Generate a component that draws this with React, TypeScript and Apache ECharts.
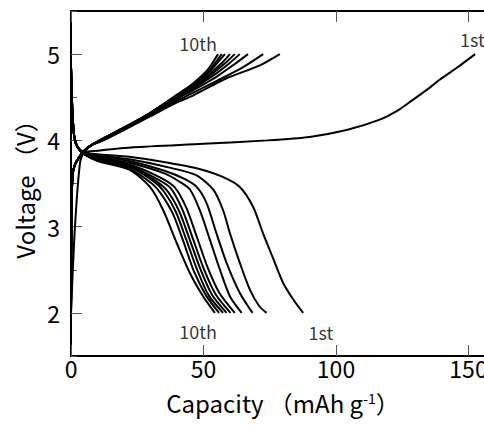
import React, { useEffect, useRef } from "react";
import * as echarts from "echarts";

// ---------- data (capacity mAh/g, voltage V) ----------
const charge1: number[][] = [[0, 2.0], [1.5, 3.0], [3.4, 3.74], [5, 3.86], [10, 3.88], [23.5, 3.92], [50, 3.96], [74, 4.0], [90, 4.04], [104, 4.12], [116.5, 4.24], [124, 4.36], [129, 4.47], [134, 4.58], [139, 4.7], [146, 4.85], [152.5, 5.0]];
const charge2: number[][] = [[0, 2.0], [0.2, 3.2], [0.6, 3.6], [1.5, 3.72], [3, 3.8], [5, 3.88], [8, 3.95], [12, 4.0], [20, 4.12], [30, 4.28], [40, 4.44], [46, 4.52], [58.7, 4.72], [71.3, 4.87], [78.8, 5.0]];
const charge3: number[][] = [[0, 2.0], [0.2, 3.2], [0.6, 3.6], [1.5, 3.72], [3, 3.8], [5, 3.88], [8, 3.95], [12, 4.0], [20, 4.13], [30, 4.29], [40, 4.46], [46, 4.55], [55, 4.69], [65, 4.85], [72.5, 5.0]];
const charge4: number[][] = [[0, 2.0], [0.2, 3.2], [0.6, 3.6], [1.5, 3.72], [3, 3.8], [5, 3.88], [8, 3.95], [12, 4.0], [20, 4.13], [30, 4.3], [40, 4.48], [46, 4.58], [55, 4.74], [62, 4.89], [66.8, 5.0]];
const charge5: number[][] = [[0, 2.0], [0.2, 3.2], [0.6, 3.6], [1.5, 3.72], [3, 3.8], [5, 3.88], [8, 3.95], [12, 4.01], [20, 4.13], [30, 4.31], [40, 4.49], [46, 4.6], [55, 4.78], [60, 4.9], [63.7, 5.0]];
const charge6: number[][] = [[0, 2.0], [0.2, 3.2], [0.6, 3.6], [1.5, 3.72], [3, 3.8], [5, 3.88], [8, 3.95], [12, 4.01], [20, 4.14], [30, 4.31], [40, 4.5], [46, 4.61], [54, 4.79], [58, 4.89], [61.8, 5.0]];
const charge7: number[][] = [[0, 2.0], [0.2, 3.2], [0.6, 3.6], [1.5, 3.72], [3, 3.8], [5, 3.88], [8, 3.95], [12, 4.01], [20, 4.14], [30, 4.32], [40, 4.51], [46, 4.62], [53, 4.79], [57, 4.9], [60, 5.0]];
const charge8: number[][] = [[0, 2.0], [0.2, 3.2], [0.6, 3.6], [1.5, 3.72], [3, 3.8], [5, 3.88], [8, 3.95], [12, 4.02], [20, 4.14], [30, 4.32], [40, 4.52], [46, 4.63], [52, 4.79], [55, 4.89], [58.1, 5.0]];
const charge9: number[][] = [[0, 2.0], [0.2, 3.2], [0.6, 3.6], [1.5, 3.72], [3, 3.8], [5, 3.88], [8, 3.95], [12, 4.02], [20, 4.15], [30, 4.32], [40, 4.52], [46, 4.64], [52, 4.81], [54, 4.88], [56.9, 5.0]];
const charge10: number[][] = [[0, 2.0], [0.2, 3.2], [0.6, 3.6], [1.5, 3.72], [3, 3.8], [5, 3.88], [8, 3.95], [12, 4.02], [20, 4.15], [30, 4.32], [40, 4.53], [46, 4.66], [51, 4.8], [53, 4.88], [55.5, 5.0]];

const discharge1: number[][] = [[0, 4.85], [0.5, 4.35], [1.2, 4.05], [2.5, 3.92], [5, 3.86], [10, 3.84], [22, 3.81], [35, 3.75], [47, 3.68], [57, 3.58], [63.7, 3.46], [68.7, 3.23], [72.5, 2.92], [76.3, 2.63], [80, 2.35], [84, 2.15], [87.6, 2.0]];
const discharge2: number[][] = [[0, 4.85], [0.5, 4.35], [1.2, 4.05], [2.5, 3.92], [5, 3.86], [10, 3.83], [22, 3.78], [35, 3.7], [47, 3.6], [53.7, 3.43], [57.4, 3.19], [60, 2.92], [63.7, 2.58], [67.5, 2.27], [71, 2.08], [73.8, 2.0]];
const discharge3: number[][] = [[0, 4.85], [0.5, 4.35], [1.2, 4.05], [2.5, 3.92], [5, 3.86], [10, 3.82], [22, 3.76], [35, 3.65], [43, 3.55], [47.4, 3.46], [51.2, 3.27], [54.9, 2.92], [58.7, 2.58], [63.7, 2.23], [68.5, 2.0]];
const discharge4: number[][] = [[0, 4.85], [0.5, 4.35], [1.2, 4.05], [2.5, 3.92], [5, 3.85], [10, 3.81], [22, 3.74], [35, 3.62], [41, 3.52], [44.9, 3.43], [48.6, 3.19], [52.4, 2.85], [56.2, 2.5], [60, 2.19], [64.4, 2.0]];
const discharge5: number[][] = [[0, 4.85], [0.5, 4.35], [1.2, 4.05], [2.5, 3.92], [5, 3.85], [10, 3.8], [22, 3.72], [33, 3.58], [39, 3.46], [43.5, 3.22], [47.5, 2.88], [51.5, 2.53], [56, 2.23], [61.8, 2.0]];
const discharge6: number[][] = [[0, 4.85], [0.5, 4.35], [1.2, 4.05], [2.5, 3.92], [5, 3.85], [10, 3.79], [22, 3.71], [32, 3.56], [37.5, 3.45], [42, 3.2], [46, 2.86], [50, 2.52], [54.5, 2.22], [60.2, 2.0]];
const discharge7: number[][] = [[0, 4.85], [0.5, 4.35], [1.2, 4.05], [2.5, 3.92], [5, 3.84], [10, 3.78], [22, 3.7], [31.5, 3.54], [36.2, 3.42], [40.8, 3.18], [44.8, 2.85], [48.8, 2.51], [53.2, 2.21], [58.7, 2.0]];
const discharge8: number[][] = [[0, 4.85], [0.5, 4.35], [1.2, 4.05], [2.5, 3.92], [5, 3.84], [10, 3.78], [22, 3.69], [31, 3.53], [35, 3.41], [39.6, 3.17], [43.6, 2.84], [47.6, 2.5], [52, 2.2], [57.4, 2.0]];
const discharge9: number[][] = [[0, 4.85], [0.5, 4.35], [1.2, 4.05], [2.5, 3.92], [5, 3.84], [10, 3.77], [22, 3.67], [30.5, 3.5], [34, 3.38], [38.6, 3.14], [42.5, 2.82], [46.4, 2.48], [51, 2.2], [55.9, 2.0]];
const discharge10: number[][] = [[0, 4.85], [0.5, 4.35], [1.2, 4.05], [2.5, 3.92], [5, 3.84], [10, 3.76], [22, 3.66], [29.8, 3.46], [34.8, 3.19], [39.9, 2.81], [44.9, 2.46], [49.9, 2.19], [54.3, 2.0]];

const curveLabels: (number | string)[][] = [
  [48, 5.13, "10th"],
  [151.5, 5.17, "1st"],
  [48, 1.79, "10th"],
  [94.3, 1.78, "1st"],
];

const xTicks = [0, 50, 100, 150];

const FONT = "'Noto Sans CJK JP', 'Noto Sans', sans-serif";

export default function App() {
  const ref = useRef<HTMLDivElement>(null);
  useEffect(() => {
    if (!ref.current) return;
    const chart = echarts.init(ref.current, undefined, { renderer: "svg" });
    const curves = [
      charge1, charge2, charge3, charge4, charge5, charge6, charge7, charge8, charge9, charge10,
      discharge1, discharge2, discharge3, discharge4, discharge5, discharge6, discharge7, discharge8, discharge9, discharge10,
    ];
    const lineSeries = curves.map((d, i) => ({
      type: "line",
      name: "c" + i,
      data: d,
      showSymbol: false,
      smooth: 0.25,
      lineStyle: { color: "#000", width: 2 },
      xAxisIndex: 0,
      yAxisIndex: 0,
      silent: true,
    }));
    const tickStyle = { show: true, inside: true, length: 11, lineStyle: { color: "#555", width: 1 } };
    const option: any = {
      animation: false,
      backgroundColor: "#fff",
      grid: { left: 71, top: 11, width: 424, height: 345, containLabel: false },
      xAxis: [
        {
          type: "value",
          min: 0,
          max: 160,
          interval: 50,
          position: "bottom",
          axisLine: { show: true, lineStyle: { color: "#000", width: 2 } },
          axisTick: tickStyle,
          splitLine: { show: false },
          axisLabel: {
            show: true,
            margin: 0,
            fontSize: 23,
            fontFamily: FONT,
            color: "#000",
            showMaxLabel: false,
            formatter: (v: number) => (xTicks.indexOf(v) >= 0 ? String(v) : ""),
          },
          name: "{a|Capacity （mAh g}{s|-1}{a|）}",
          nameLocation: "middle",
          nameGap: 31,
          nameTextStyle: {
            rich: {
              a: { fontSize: 24, fontFamily: FONT, color: "#000", lineHeight: 30 },
              s: { fontSize: 14, fontFamily: FONT, color: "#000", verticalAlign: "top", padding: [4, 0, 0, 0] },
            },
          },
        },
        {
          type: "value",
          min: 0,
          max: 160,
          interval: 50,
          position: "top",
          axisLine: { show: true, lineStyle: { color: "#000", width: 2 } },
          axisTick: tickStyle,
          axisLabel: { show: false },
          splitLine: { show: false },
        },
      ],
      yAxis: [
        {
          type: "value",
          min: 1.5,
          max: 5.5,
          splitNumber: 4,
          position: "left",
          axisLine: { show: true, lineStyle: { color: "#000", width: 2 } },
          axisTick: tickStyle,
          splitLine: { show: false },
          axisLabel: {
            show: true,
            margin: 11,
            fontSize: 23,
            fontFamily: FONT,
            color: "#000",
            showMinLabel: false,
            showMaxLabel: false,
            formatter: (v: number) => (Math.abs(v - Math.round(v)) < 1e-6 ? String(Math.round(v)) : ""),
          },
          name: "Voltage （V）",
          nameLocation: "middle",
          nameGap: 28,
          nameTextStyle: { fontSize: 24, fontFamily: FONT, color: "#000" },
        },
        {
          type: "value",
          min: 1.5,
          max: 5.5,
          interval: 0.5,
          position: "left",
          axisLine: { show: false },
          axisTick: { show: true, inside: true, length: 6, lineStyle: { color: "#555", width: 1 } },
          axisLabel: { show: false },
          splitLine: { show: false },
        },
        {
          type: "value",
          min: 1.5,
          max: 5.5,
          splitNumber: 4,
          position: "right",
          axisLine: { show: true, lineStyle: { color: "#000", width: 2 } },
          axisTick: tickStyle,
          axisLabel: { show: false },
          splitLine: { show: false },
        },
      ],
      series: [
        ...lineSeries,
        {
          type: "scatter",
          xAxisIndex: 0,
          yAxisIndex: 0,
          symbolSize: 0,
          silent: true,
          clip: false,
          data: curveLabels,
          label: {
            show: true,
            position: "inside",
            formatter: (p: any) => p.value[2],
            fontSize: 18,
            fontFamily: FONT,
            color: "#000",
          },
        },
      ],
    };
    chart.setOption(option);
    return () => chart.dispose();
  }, []);
  return (
    <div
      ref={ref}
      style={{ position: "fixed", left: 0, top: 0, width: 510, height: 425, background: "#fff" }}
    />
  );
}
